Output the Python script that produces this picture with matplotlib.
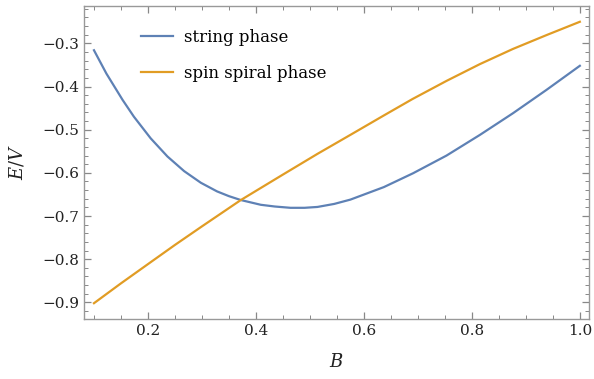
import matplotlib.pyplot as plt
from matplotlib.ticker import MultipleLocator

# energy per site vs field B for the two competing phases
b_string = [0.1, 0.123, 0.153, 0.174, 0.205, 0.236, 0.267, 0.298, 0.328, 0.35,
            0.372, 0.409, 0.435, 0.464, 0.49, 0.514, 0.545, 0.575, 0.637, 0.691,
            0.753, 0.815, 0.876, 0.938, 1.0]
e_string = [-0.316, -0.370, -0.431, -0.470, -0.520, -0.562, -0.596, -0.623, -0.643, -0.654,
            -0.663, -0.674, -0.678, -0.681, -0.681, -0.679, -0.672, -0.662, -0.633, -0.601,
            -0.560, -0.512, -0.462, -0.408, -0.352]

b_spiral = [0.1, 0.15, 0.205, 0.25, 0.3, 0.372, 0.45, 0.514, 0.575, 0.637,
            0.69, 0.753, 0.815, 0.876, 0.938, 1.0]
e_spiral = [-0.902, -0.856, -0.807, -0.767, -0.724, -0.663, -0.604, -0.556, -0.512, -0.467,
            -0.429, -0.387, -0.348, -0.313, -0.281, -0.250]

plt.rcParams['font.family'] = ['DejaVu Serif']
plt.rcParams['mathtext.fontset'] = 'dejavuserif'

fig = plt.figure(figsize=(5.94, 3.79), dpi=100)
ax = fig.add_axes([0.1414, 0.159, 0.8502, 0.825])

ax.plot(b_string, e_string, color='#5E81B5', lw=1.6, label='string phase')
ax.plot(b_spiral, e_spiral, color='#E19C24', lw=1.6, label='spin spiral phase')

ax.set_xlim(0.0815, 1.017)
ax.set_ylim(-0.938, -0.2136)

ax.xaxis.set_major_locator(MultipleLocator(0.2))
ax.xaxis.set_minor_locator(MultipleLocator(0.05))
ax.yaxis.set_major_locator(MultipleLocator(0.1))
ax.yaxis.set_minor_locator(MultipleLocator(0.02))
ax.xaxis.set_major_formatter(lambda v, p: f'{v:.1f}'.replace('-', '\u2212'))
ax.yaxis.set_major_formatter(lambda v, p: f'{v:.1f}'.replace('-', '\u2212'))

ax.tick_params(which='both', direction='in', top=True, right=True, color='#888888',
               labelsize=11, labelcolor='#222222')
ax.tick_params(which='major', length=5, width=0.9)
ax.tick_params(which='minor', length=2.8, width=0.7)
for s in ax.spines.values():
    s.set_color('#999999')
    s.set_linewidth(1.0)

ax.set_xlabel('$B$', fontsize=13, color='#222222', labelpad=11)
ax.set_ylabel('$E/V$', fontsize=13, color='#222222', labelpad=11)

ax.legend(loc='upper left', bbox_to_anchor=(0.083, 0.975), frameon=False, fontsize=12,
          handlelength=1.95, labelspacing=1.15, handletextpad=0.65)

fig.savefig('out.png', dpi=100)
